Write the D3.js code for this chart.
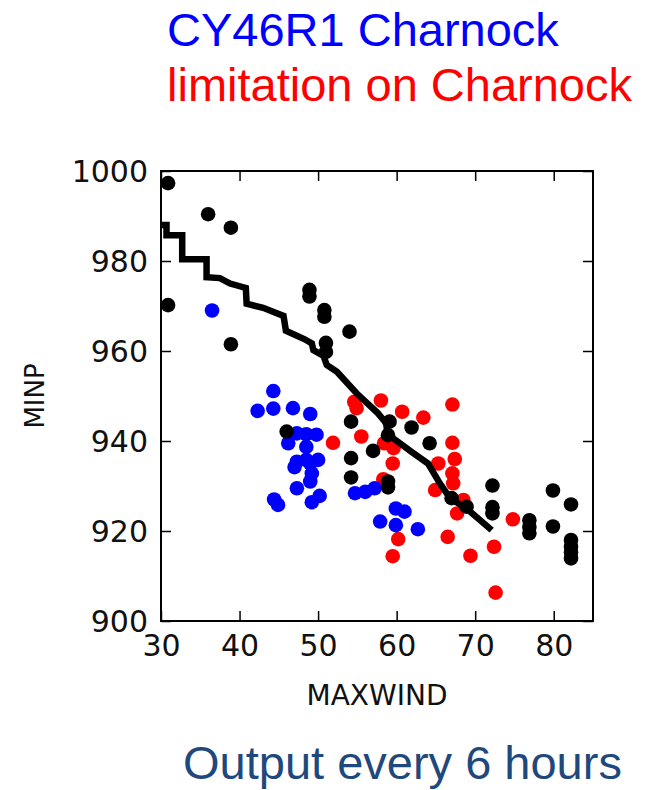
<!DOCTYPE html>
<html>
<head>
<meta charset="utf-8">
<script src="https://cdn.jsdelivr.net/npm/d3@7"></script>
<style>
body { margin: 0; background: #fff; }
svg text { font-family: "DejaVu Sans", sans-serif; }
.title { font-family: "Liberation Sans", Arial, sans-serif; font-size: 47px; }
</style>
</head>
<body>
<div id="chart"></div>
<script>
// canvas
var svgWidth = 659,
	svgHeight = 790;

// plot box in pixels
var margin = { top: 171, right: 66, bottom: 169, left: 161 };
var width = svgWidth - margin.left - margin.right,
	height = svgHeight - margin.top - margin.bottom;

// tick values
var xTicks = [30, 40, 50, 60, 70, 80],
	yTicks = [900, 920, 940, 960, 980, 1000];

// control run (black) [MAXWIND, MINP]
var blackPts = [
	[30.9, 997.3], [36.0, 990.4], [38.9, 987.4], [30.9, 970.2], [38.9, 961.5],
	[48.9, 973.6], [48.9, 972.1], [50.8, 969.1], [50.8, 967.6], [54.0, 964.3],
	[51.0, 961.8], [51.0, 959.8], [46.0, 942.1], [54.2, 944.3], [59.1, 944.3],
	[61.9, 943.0], [58.9, 941.3], [64.2, 939.5], [57.0, 937.8], [54.2, 936.2],
	[54.2, 931.9], [58.9, 931.0], [58.9, 929.7], [67.0, 927.3], [68.9, 925.4],
	[72.2, 930.1], [72.2, 925.3], [72.2, 923.9], [76.9, 922.4], [76.9, 920.9],
	[76.9, 919.5], [79.9, 929.0], [79.9, 921.0], [82.2, 925.9], [82.2, 918.0],
	[82.2, 916.5], [82.2, 915.2], [82.2, 913.9]
];

// CY46R1 Charnock (blue)
var bluePts = [
	[36.5, 969.0], [44.3, 951.1], [42.3, 946.7], [44.3, 947.2], [46.8, 947.3],
	[49.0, 946.0], [47.3, 941.7], [48.5, 941.5], [49.8, 941.4], [46.2, 939.5],
	[48.5, 938.7], [50.0, 935.8], [48.5, 935.8], [47.3, 935.4], [47.0, 934.2],
	[49.0, 935.0], [49.2, 932.8], [49.0, 931.0], [47.3, 929.5], [44.4, 927.0],
	[44.9, 925.8], [50.2, 927.8], [49.2, 926.4], [54.7, 928.4], [56.0, 928.7],
	[57.2, 929.5], [57.9, 922.1], [59.9, 925.0], [61.0, 924.3], [59.9, 921.3],
	[62.7, 920.4]
];

// limitation on Charnock (red)
var redPts = [
	[54.6, 948.7], [54.9, 947.3], [58.0, 949.0], [60.7, 946.5], [63.4, 945.2],
	[67.1, 948.1], [55.5, 941.0], [58.4, 939.5], [59.6, 938.4], [59.5, 935.0],
	[58.3, 931.5], [51.9, 939.6], [65.3, 935.0], [64.9, 929.1], [67.1, 939.6],
	[67.4, 936.0], [67.1, 932.8], [67.2, 930.6], [68.5, 926.9], [67.7, 923.9],
	[66.5, 918.7], [60.2, 918.2], [59.5, 914.4], [69.4, 914.5], [72.4, 916.5],
	[72.6, 906.3], [74.8, 922.6]
];

// stepped fit line
var fitLine = [
	[30.0, 988.0], [30.7, 988.0], [30.7, 985.7], [32.7, 985.7], [32.7, 980.4],
	[35.8, 980.4], [35.8, 976.4], [37.5, 976.2], [38.8, 975.0], [40.8, 974.0],
	[40.9, 970.5], [43.0, 969.6], [45.6, 967.8], [45.9, 964.5], [48.3, 962.6],
	[49.2, 961.7], [49.4, 960.2], [50.7, 958.9], [51.1, 956.9], [52.4, 955.4],
	[54.9, 950.6], [57.6, 946.2], [58.7, 943.9], [58.8, 941.3], [59.8, 940.3],
	[61.9, 937.6], [64.0, 935.0], [65.5, 930.6], [66.8, 927.3], [68.9, 925.0],
	[72.1, 920.2]
];

var svg = d3.select('#chart')
	.append('svg')
	.attr('width', svgWidth)
	.attr('height', svgHeight);

// titles
svg.append('text').attr('class', 'title')
	.attr('x', 167).attr('y', 46)
	.attr('fill', '#0000ff')
	.text('CY46R1 Charnock');
svg.append('text').attr('class', 'title')
	.attr('x', 167).attr('y', 101)
	.attr('fill', '#ff0000')
	.text('limitation on Charnock');
svg.append('text').attr('class', 'title')
	.attr('x', 183).attr('y', 779)
	.attr('fill', '#1f497d')
	.text('Output every 6 hours');

var chartGroup = svg.append('g')
	.attr('transform', `translate(${margin.left},${margin.top})`);

var xScale = d3.scaleLinear().domain([30, 85]).range([0, width]),
	yScale = d3.scaleLinear().domain([900, 1000]).range([height, 0]);

// clip so markers at the edges are cut like matplotlib
chartGroup.append('clipPath').attr('id', 'clip')
	.append('rect').attr('width', width).attr('height', height);

var plot = chartGroup.append('g').attr('clip-path', 'url(#clip)');

function drawDots(pts, color) {
	plot.append('g').selectAll('circle')
		.data(pts)
		.enter()
		.append('circle')
		.attr('cx', d => xScale(d[0]))
		.attr('cy', d => yScale(d[1]))
		.attr('r', 7.3)
		.attr('fill', color);
}
drawDots(redPts, '#ff0000');
drawDots(bluePts, '#0000ff');
drawDots(blackPts, '#000000');

plot.append('path')
	.datum(fitLine)
	.attr('fill', 'none')
	.attr('stroke', '#000')
	.attr('stroke-width', 6.5)
	.attr('stroke-linejoin', 'miter')
	.attr('d', d3.line().x(d => xScale(d[0])).y(d => yScale(d[1])));

// axes, ticks inward on all sides
var tickLen = 10;
var xAxis = chartGroup.append('g')
	.attr('transform', `translate(0,${height})`)
	.call(d3.axisBottom(xScale).tickValues(xTicks).tickSize(-tickLen).tickPadding(14));
var xTop = chartGroup.append('g')
	.call(d3.axisTop(xScale).tickValues(xTicks).tickSize(-tickLen).tickFormat(''));
var yAxis = chartGroup.append('g')
	.call(d3.axisLeft(yScale).tickValues(yTicks).tickSize(-tickLen).tickPadding(13)
		.tickFormat(d3.format('d')));
var yRight = chartGroup.append('g')
	.attr('transform', `translate(${width},0)`)
	.call(d3.axisRight(yScale).tickValues(yTicks).tickSize(-tickLen).tickFormat(''));

[xAxis, xTop, yAxis, yRight].forEach(a => {
	a.select('.domain').remove();
	a.selectAll('line').attr('stroke', '#000').attr('stroke-width', 1.5);
	a.selectAll('text').attr('font-size', 30).attr('fill', '#111')
		.style('font-family', '"DejaVu Sans", sans-serif');
});
yAxis.selectAll('text').attr('dy', '0.36em');

// frame
chartGroup.append('rect')
	.attr('width', width).attr('height', height)
	.attr('fill', 'none').attr('stroke', '#000').attr('stroke-width', 2);

// axis labels
chartGroup.append('text')
	.attr('x', width / 2).attr('y', height + 84)
	.attr('text-anchor', 'middle')
	.attr('font-size', 28).attr('fill', '#111')
	.text('MAXWIND');
chartGroup.append('text')
	.attr('transform', `translate(-117,${height / 2})rotate(-90)`)
	.attr('text-anchor', 'middle')
	.attr('font-size', 26).attr('fill', '#111')
	.text('MINP');
</script>
</body>
</html>
